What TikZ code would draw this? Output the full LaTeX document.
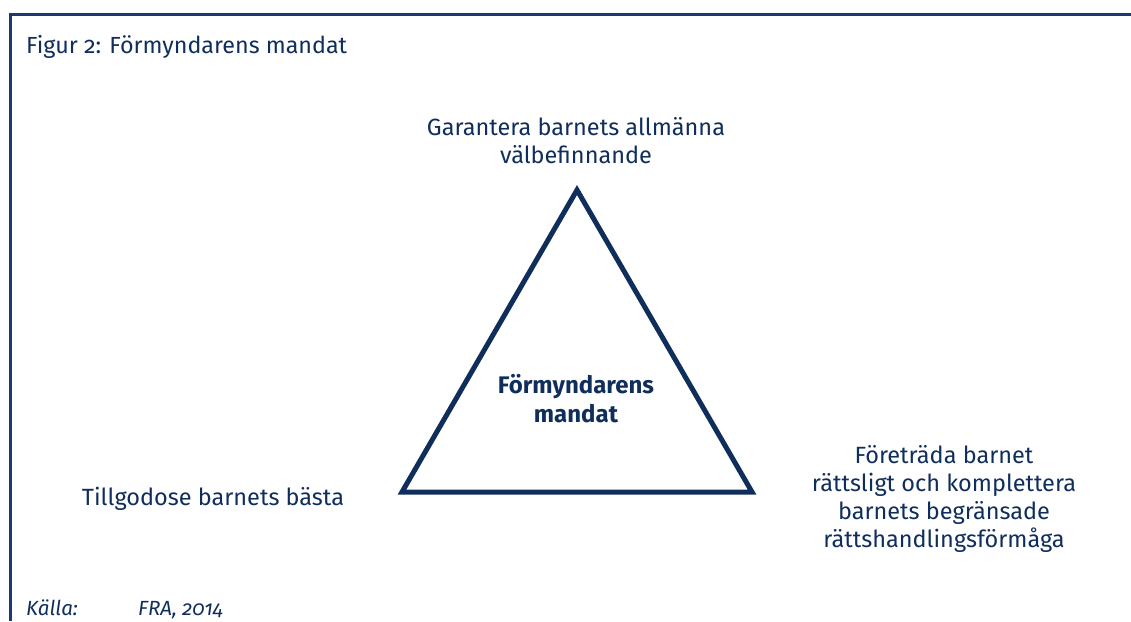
\documentclass[tikz,border=0pt]{standalone}
\usepackage{fontspec}
\setmainfont[Numbers=OldStyle]{Fira Sans}
\definecolor{navy}{RGB}{16,46,92}
\definecolor{framec}{RGB}{24,60,112}
\begin{document}
\begin{tikzpicture}[x=1pt,y=-1pt,
  lbl/.style={anchor=base, inner sep=0pt, text=navy, font=\fontsize{23.5}{28.3}\selectfont},
  ttl/.style={anchor=base west, inner sep=0pt, text=navy, font=\fontsize{23.3}{28}\selectfont},
  src/.style={anchor=base west, inner sep=0pt, text=navy, font=\fontsize{20.5}{24}\selectfont\itshape},
  ctr/.style={anchor=base, inner sep=0pt, text=navy, font=\fontsize{24}{29}\selectfont\bfseries},
  tri/.style={draw=navy, line width=5pt, line join=miter},
  frm/.style={draw=framec, line width=3pt}]
\useasboundingbox (0,0) rectangle (1131,621);
\coordinate (ftop) at (1131,14.5);
\coordinate (fcorner) at (10.5,14.5);
\coordinate (fbot) at (10.5,621);
\draw[frm] (ftop) -- (fcorner) -- (fbot);
\node[ttl] (title) at (26,53) {Figur 2: Förmyndarens mandat};
\coordinate (A) at (577,190);
\coordinate (B) at (402,492);
\coordinate (C) at (752,492);
\draw[tri] (A) -- (B) -- (C) -- cycle;
\node[ctr] (mid) at (576,393) {\begin{tabular}[t]{@{}c@{}}Förmyndarens\\mandat\end{tabular}};
\node[lbl] (top) at (576,135) {\begin{tabular}[t]{@{}c@{}}Garantera barnets allmänna\\välbefinnande\end{tabular}};
\node[lbl] (left) at (213,505) {Tillgodose barnets bästa};
\node[lbl] (right) at (944,463) {\begin{tabular}[t]{@{}c@{}}Företräda barnet\\rättsligt och komplettera\\barnets begränsade\\rättshandlingsförmåga\end{tabular}};
\node[src] (kalla) at (26,615) {Källa:};
\node[src] (fra) at (138,615) {FRA, 2014};
\end{tikzpicture}
\end{document}
